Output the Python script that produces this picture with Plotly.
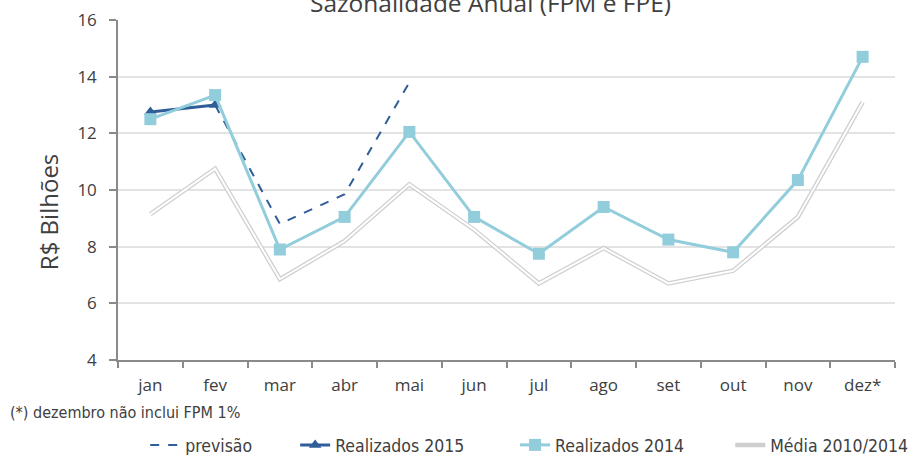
import plotly.graph_objects as go

months = ["jan", "fev", "mar", "abr", "mai", "jun", "jul", "ago", "set", "out", "nov", "dez*"]
previsao = [None, 13.0, 8.8, 9.85, 13.8, None, None, None, None, None, None, None]
realizados_2015 = [12.75, 13.0, None, None, None, None, None, None, None, None, None, None]
realizados_2014 = [12.5, 13.35, 7.9, 9.05, 12.05, 9.05, 7.75, 9.4, 8.25, 7.8, 10.35, 14.7]
media_2010_2014 = [9.15, 10.75, 6.85, 8.2, 10.2, 8.6, 6.7, 7.95, 6.7, 7.15, 9.05, 13.1]

title_text = "Sazonalidade Anual (FPM e FPE)"
footnote_text = "(*) dezembro não inclui FPM 1%"
y_title = "R$ Bilhões"

DARK = "#2F5E98"
LIGHT = "#92CDDC"
GREY = "#cfcfcf"
TXT = "#404040"
NARROW = "Liberation Sans Narrow, DejaVu Sans Condensed, sans-serif"
LEGFONT = dict(family=NARROW, size=17.5, color=TXT)

fig = go.Figure()

# Média 2010/2014 (double line: grey outline + white core)
fig.add_trace(go.Scatter(x=months, y=media_2010_2014, mode="lines", name="Média 2010/2014",
                         line=dict(color=GREY, width=4.5), legend="legend4"))
fig.add_trace(go.Scatter(x=months, y=media_2010_2014, mode="lines", name="Média 2010/2014",
                         line=dict(color="white", width=2), showlegend=False, hoverinfo="skip"))

fig.add_trace(go.Scatter(x=months, y=previsao, mode="lines", name="previsão",
                         line=dict(color=DARK, width=2, dash="dash"), legend="legend"))
fig.add_trace(go.Scatter(x=months, y=realizados_2015, mode="lines+markers", name="Realizados 2015",
                         line=dict(color=DARK, width=3),
                         marker=dict(symbol="triangle-up", size=11, color=DARK), legend="legend2"))
fig.add_trace(go.Scatter(x=months, y=realizados_2014, mode="lines+markers", name="Realizados 2014",
                         line=dict(color=LIGHT, width=3),
                         marker=dict(symbol="square", size=12, color=LIGHT), legend="legend3"))

leg_common = dict(orientation="h", yanchor="middle", y=-0.25, xanchor="left",
                  bgcolor="rgba(0,0,0,0)", font=LEGFONT, borderwidth=0)

fig.update_layout(
    width=910, height=455,
    margin=dict(l=118, r=15, t=20, b=95, autoexpand=False),
    paper_bgcolor="white", plot_bgcolor="white",
    font=dict(family="Open Sans, sans-serif", color=TXT),
    legend=dict(x=0.035, **leg_common),
    legend2=dict(x=0.228, **leg_common),
    legend3=dict(x=0.511, **leg_common),
    legend4=dict(x=0.788, **leg_common),
    xaxis=dict(
        type="category", range=[-0.5, 11.5],
        showline=True, linecolor="#8a8a8a", linewidth=1.5,
        ticks="outside", tickson="boundaries", ticklen=6, tickcolor="#8a8a8a", tickwidth=1.5,
        tickfont=dict(size=17, color=TXT), showgrid=False, zeroline=False,
        ticklabelstandoff=9,
    ),
    yaxis=dict(
        range=[4, 16], dtick=2, tick0=4,
        showline=True, linecolor="#8a8a8a", linewidth=1.5,
        ticks="outside", ticklen=7, tickcolor="#8a8a8a", tickwidth=1.5,
        showgrid=True, gridcolor="#e3e3e3", gridwidth=1.5, zeroline=False,
        tickfont=dict(size=17, color=TXT), ticklabelstandoff=9,
    ),
    annotations=[
        dict(text=title_text, xref="paper", yref="paper", x=0.479, y=1, xanchor="center",
             yanchor="bottom", yshift=-1, showarrow=False,
             font=dict(size=24.5, color=TXT, family="Open Sans, sans-serif")),
        dict(text=y_title, xref="paper", yref="paper", x=-0.09, y=0.435, textangle=-90,
             xanchor="center", yanchor="middle", showarrow=False,
             font=dict(size=24, color=TXT, family="Open Sans, sans-serif")),
        dict(text=footnote_text, xref="paper", yref="paper", x=-0.1416, y=-0.153,
             xanchor="left", yanchor="middle", showarrow=False,
             font=dict(size=16, color=TXT, family=NARROW)),
    ],
)

fig.write_html("out.html", config={"displayModeBar": False},
               post_script="document.body.style.margin='0';")
